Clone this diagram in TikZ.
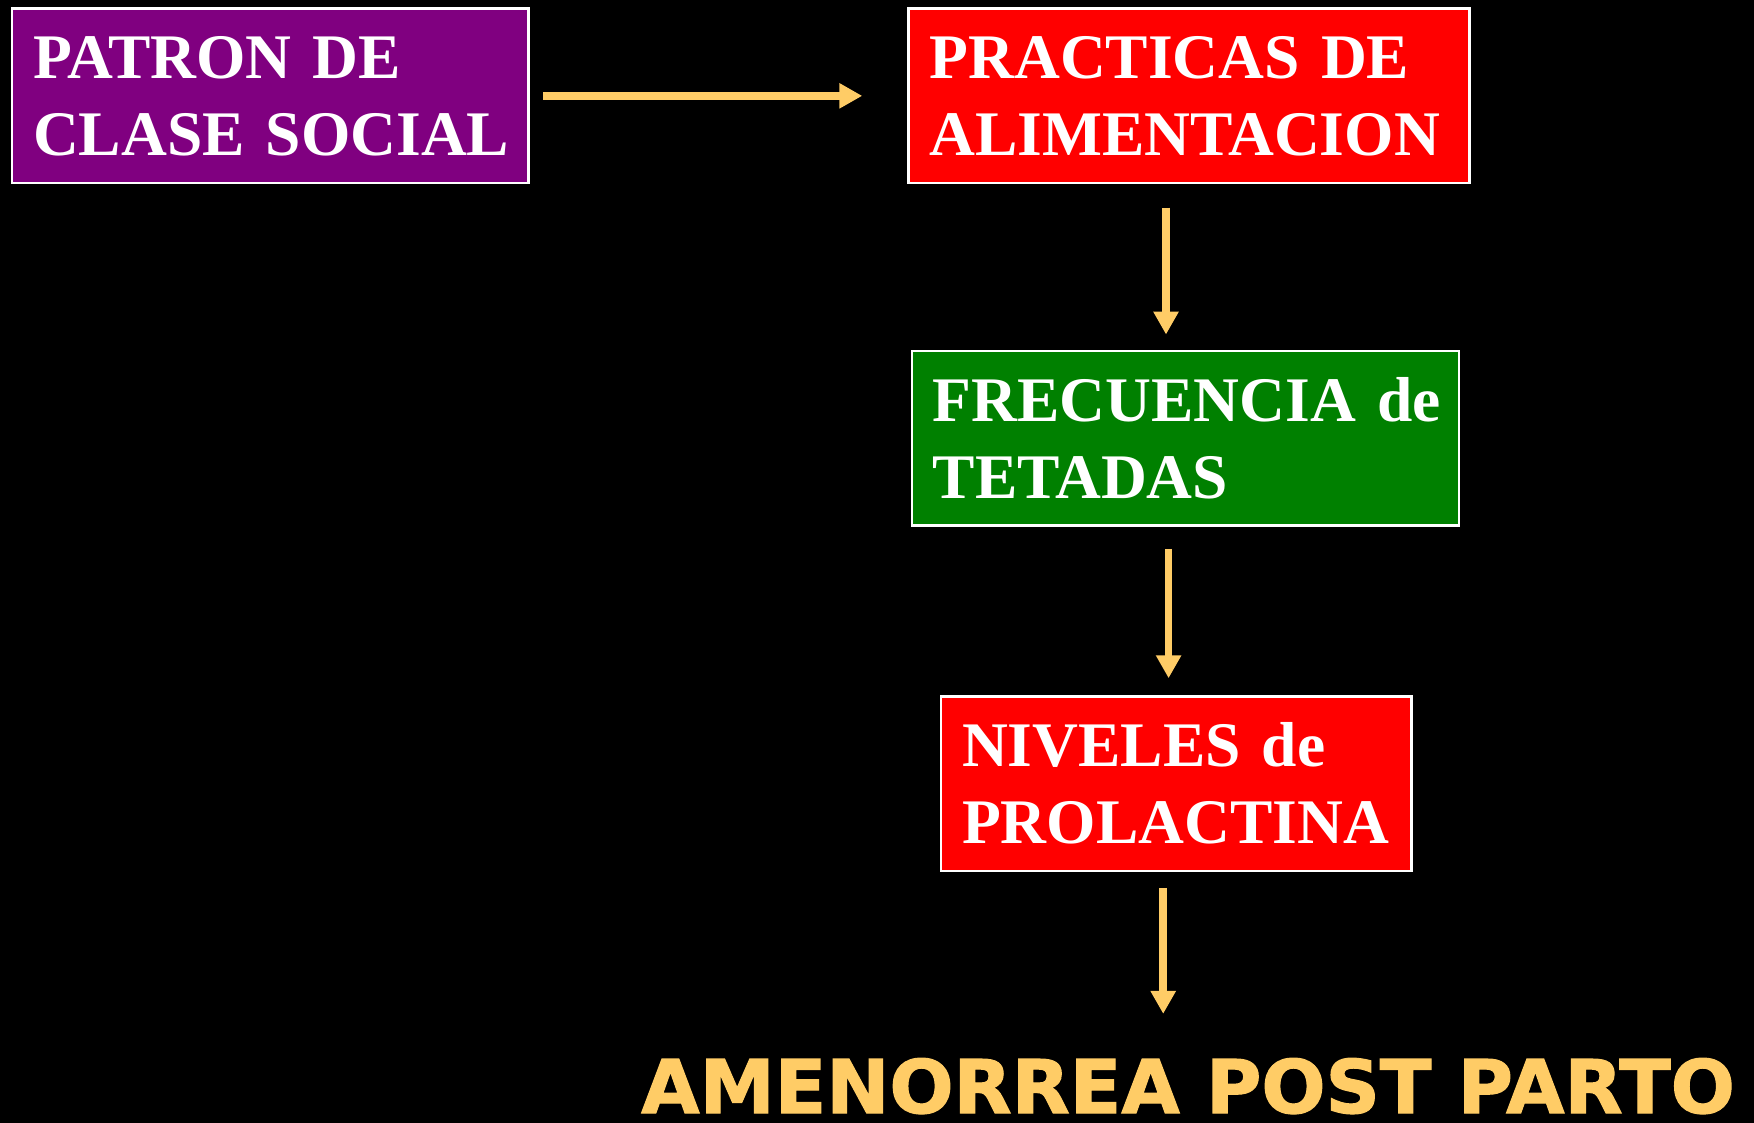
\documentclass[tikz,border=0pt]{standalone}
\usepackage{fontspec}
\setmainfont{Liberation Serif}
\newfontfamily\heavyfont[FakeBold=1.5, FakeStretch=1.02]{DejaVu Sans Bold}
\usetikzlibrary{arrows.meta}
\definecolor{arrowc}{HTML}{FFCC66}
\definecolor{purplebox}{HTML}{800080}
\definecolor{redbox}{HTML}{FF0000}
\definecolor{greenbox}{HTML}{008000}
\begin{document}
\begin{tikzpicture}[x=1pt,y=-1pt,
  box/.style={draw=white, line width=2.5pt, anchor=north west, inner xsep=21pt, inner ysep=0pt,
    align=left, text=white, minimum height=174.5pt,
    font=\fontsize{63.5}{77}\selectfont\bfseries},
  conn/.style={draw=arrowc, line width=7.5pt, -{Triangle[width=24pt,length=23pt]}},
]
\fill[black] (0,0) rectangle (1754,1123);
\useasboundingbox (0,0) rectangle (1754,1123);

\node[box, fill=purplebox, text width=474.5pt] (A) at (10.75,7.35) {\mbox{PATRON DE}\\\mbox{CLASE SOCIAL}};
\node[box, fill=redbox, text width=518.8pt] (B) at (907.25,7.35) {\mbox{PRACTICAS DE}\\\mbox{ALIMENTACION}};
\node[box, fill=greenbox, text width=505.3pt] (C) at (910.65,349.55) {\mbox{FRECUENCIA de}\\\mbox{TETADAS}};
\node[box, fill=redbox, text width=428.7pt] (D) at (939.75,695.25) {\mbox{NIVELES de}\\\mbox{PROLACTINA}};
\node[anchor=base west, inner sep=0pt, text=arrowc, font=\heavyfont\fontsize{74}{80}\selectfont] (E) at (641,1113) {AMENORREA POST PARTO};

\coordinate (xb) at (1166,0);
\coordinate (xc) at (1168.6,0);
\coordinate (xd) at (1163.2,0);

\draw[conn, shorten <=13.5pt, shorten >=45pt] (A.east) -- (B.west);
\draw[conn, shorten <=23.2pt, shorten >=15pt] (B.south -| xb) -- (C.north -| xb);
\draw[conn, shorten <=22.3pt, shorten >=17pt] (C.south -| xc) -- (D.north -| xc);
\draw[conn, shorten <=15.5pt, shorten >=44pt] (D.south -| xd) -- (E.north -| xd);
\end{tikzpicture}
\end{document}
